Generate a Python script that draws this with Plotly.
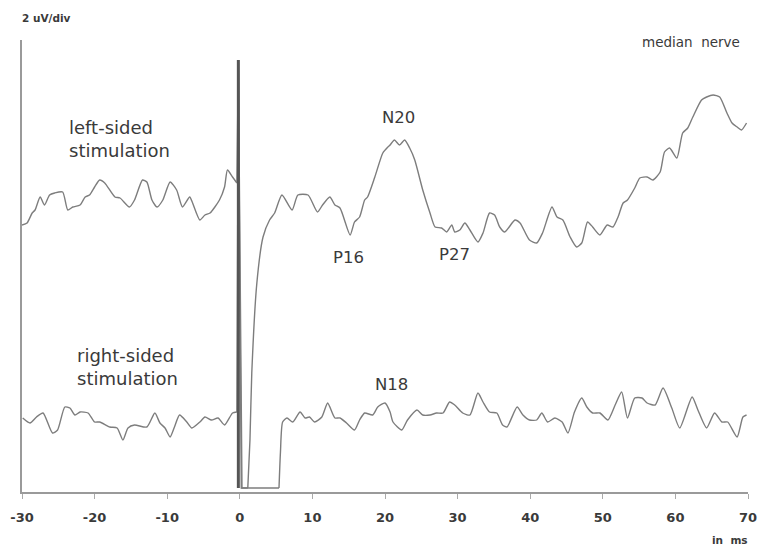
import plotly.graph_objects as go

# ---- Left-sided stimulation (upper trace): time in ms, amplitude in a.u. (offset trace) ----
left_t = [-30.0, -29.3, -28.6, -28.2, -27.5, -26.9, -26.2, -25.5, -24.4, -23.7, -23.0, -22.0,
          -21.3, -20.7, -20.0, -19.3, -18.6, -17.2, -16.5, -15.2, -14.5, -13.4, -12.8, -12.1,
          -11.4, -10.6, -9.6, -8.7, -7.9, -6.9, -6.5, -5.5, -4.8, -4.1, -2.8, -2.1, -1.7,
          -1.0, -0.4,
          -0.2, 0.2, 1.1, 1.4, 1.65, 2.35, 3.2, 4.1, 4.8, 5.8,
          7.2, 8.0, 9.4, 10.7, 11.4, 12.4, 13.1, 13.8, 15.2, 15.8, 16.5, 17.2, 17.6, 18.6,
          19.7, 20.4, 20.7, 21.3, 22.0, 22.7, 23.4, 24.1, 25.2, 26.2, 26.9, 27.8, 28.5, 29.2,
          29.6, 30.3, 31.0, 31.7, 32.8, 33.5, 34.4, 35.1, 35.8, 36.5, 37.9, 38.6, 39.9, 40.9,
          41.7, 43.0, 43.7, 44.5, 45.5, 46.4, 47.1, 47.9, 48.6, 49.6, 50.6, 51.4, 52.1, 52.8,
          53.4, 54.4, 55.1, 56.1, 56.9, 57.9, 58.5, 59.2, 60.2, 61.0, 61.7, 62.4, 63.6, 64.3,
          65.2, 66.1, 67.1, 67.8, 68.5, 69.1, 69.8]
left_amp = [26.7, 26.9, 27.9, 28.2, 29.5, 28.7, 29.7, 29.9, 30.0, 28.2, 28.5, 28.7,
            29.5, 29.7, 30.5, 31.2, 30.9, 29.5, 29.4, 28.5, 29.2, 31.2, 31.0, 29.2,
            28.5, 29.2, 31.0, 30.2, 28.5, 29.5, 28.9, 27.2, 27.7, 27.9, 29.2, 30.5, 32.2,
            31.5, 30.9,
            43.2, 0.4, 0.4, 5.2, 11.9, 20.9, 25.5, 27.2, 27.9, 29.7,
            28.2, 29.7, 29.7, 28.0, 28.7, 29.5, 28.7, 28.4, 25.7, 27.0, 27.5, 29.2, 29.5, 31.5,
            33.9, 34.5, 34.7, 35.2, 34.7, 35.2, 34.4, 33.2, 30.2, 27.9, 26.5, 26.4, 26.0, 26.7,
            26.0, 26.2, 26.9, 26.2, 25.0, 25.9, 27.9, 27.7, 26.5, 26.0, 27.2, 26.9, 25.2, 24.9,
            25.9, 28.5, 27.5, 27.2, 25.5, 24.5, 24.9, 27.0, 26.5, 25.7, 26.7, 26.5, 27.5, 28.9,
            29.2, 30.4, 31.4, 31.5, 31.2, 32.0, 34.0, 34.4, 33.4, 35.9, 36.4, 37.5, 39.2, 39.5,
            39.7, 39.5, 37.9, 36.9, 36.5, 36.2, 36.9]

# ---- Right-sided stimulation (lower trace) ----
right_t = [-29.9, -28.9, -28.0, -27.1, -25.8, -25.1, -24.1, -23.4, -22.7, -22.0, -20.9, -20.0,
           -19.3, -17.9, -16.9, -16.1, -15.4, -14.5, -12.8, -11.7, -11.0, -10.3, -9.6, -9.0,
           -8.3, -7.3, -6.6, -5.5, -4.8, -3.9, -3.0, -2.1, -1.0, -0.4,
           -0.2, 0.3, 5.4, 5.6, 5.9,
           6.5, 7.3, 8.3, 9.0, 9.6, 10.3, 11.3, 12.1, 13.1, 13.8, 14.7, 15.8, 16.5, 17.2, 18.3,
           19.0, 20.0, 20.7, 21.1, 22.3, 23.1, 24.4, 25.2, 26.2, 27.1, 28.0, 28.9, 29.6, 30.7,
           31.7, 32.8, 33.5, 34.4, 35.4, 36.2, 36.8, 38.2, 39.0, 39.9, 40.9, 41.6, 42.4, 43.4,
           44.4, 45.2, 46.1, 47.1, 47.8, 48.6, 49.6, 50.7, 51.7, 52.6, 53.4, 54.4, 55.4, 56.1,
           57.2, 58.3, 59.5, 60.6, 62.3, 63.1, 64.3, 65.4, 66.4, 67.2, 68.5, 69.3, 69.8]
right_amp = [7.4, 6.9, 7.5, 7.9, 5.9, 6.2, 8.5, 8.4, 7.7, 8.0, 7.9, 7.0,
             7.0, 6.5, 6.4, 5.2, 6.4, 6.7, 6.5, 7.9, 6.9, 6.4, 5.5, 6.5,
             7.7, 7.0, 6.4, 7.0, 7.5, 7.2, 7.4, 6.7, 7.9, 8.0,
             43.2, 0.4, 0.4, 4.0, 7.0,
             7.4, 7.0, 8.0, 7.4, 7.5, 7.0, 7.5, 8.9, 7.4, 7.4, 6.9, 6.2, 7.2, 7.9, 7.7,
             8.5, 8.9, 8.0, 7.0, 6.2, 7.2, 8.2, 7.7, 7.7, 7.9, 7.9, 9.0, 8.7, 7.9,
             7.7, 9.9, 9.0, 8.0, 7.9, 6.7, 6.5, 8.5, 7.7, 7.2, 7.2, 7.9, 7.0, 7.4,
             7.0, 5.9, 8.0, 9.4, 8.5, 7.9, 7.9, 7.2, 8.7, 10.0, 7.4, 9.4, 9.4, 8.9,
             8.7, 10.4, 8.4, 6.4, 9.5, 8.2, 6.4, 7.9, 7.0, 7.0, 5.5, 7.5, 7.7]

# ---- Stimulus artifact ----
artifact_t = [-0.2, -0.2]
artifact_amp = [0.4, 43.2]

# ---- Axis ticks ----
tick_vals = [-30, -20, -10, 0, 10, 20, 30, 40, 50, 60, 70]
tick_text = [str(v) for v in tick_vals]

# ---- Peak labels ----
peak_names = ["N20", "P16", "P27", "N18"]
peak_t = [21.8, 15.0, 29.6, 20.9]
peak_amp = [37.5, 23.5, 23.8, 10.8]

# ---- Trace labels (left aligned, two lines each) ----
label_texts = ["left-sided<br>stimulation", "right-sided<br>stimulation"]
label_t = [-23.8, -22.7]
label_amp = [35.35, 12.55]

trace_color = "#7d7d7d"
text_color = "#3a3a3a"
font_main = "DejaVu Sans"


def add_segments(fig, t, a, name):
    # pre-stimulus and post-stimulus parts smoothed; the artifact part drawn straight
    i0 = next(i for i, v in enumerate(t) if v >= -0.4)
    i1 = next(i for i, v in enumerate(t) if v >= 1.0)
    parts = [(t[:i0 + 1], a[:i0 + 1], "spline"),
             (t[i0:i1 + 1], a[i0:i1 + 1], "linear"),
             (t[i1:], a[i1:], "spline")]
    for tt, aa, shp in parts:
        fig.add_trace(go.Scatter(x=tt, y=aa, mode="lines", name=name,
                                 line=dict(color=trace_color, width=1.4, shape=shp,
                                           smoothing=0.6 if shp == "spline" else None),
                                 hoverinfo="skip"))


fig = go.Figure()
add_segments(fig, left_t, left_amp, "left-sided stimulation")
add_segments(fig, right_t, right_amp, "right-sided stimulation")
fig.add_trace(go.Scatter(x=artifact_t, y=artifact_amp, mode="lines", name="stimulus artifact",
                         line=dict(color="#555555", width=3), hoverinfo="skip"))

annotations = []
for name, t, a in zip(peak_names, peak_t, peak_amp):
    annotations.append(dict(x=t, y=a, xref="x", yref="y", text=name, showarrow=False,
                            font=dict(family=font_main, size=16.5, color=text_color)))
for txt, t, a in zip(label_texts, label_t, label_amp):
    annotations.append(dict(x=t, y=a, xref="x", yref="y", text=txt, showarrow=False,
                            xanchor="left", yanchor="middle", align="left",
                            font=dict(family=font_main, size=18, color=text_color)))

annotations += [
    dict(x=0.992, y=0.9956, xref="paper", yref="paper", xanchor="right", yanchor="middle",
         text="median  nerve", showarrow=False,
         font=dict(family=font_main, size=13.5, color=text_color)),
    dict(x=-0.003, y=1.049, xref="paper", yref="paper", xanchor="left", yanchor="middle",
         text="<b>2 uV/div</b>", showarrow=False,
         font=dict(family=font_main, size=10.5, color=text_color)),
    dict(x=1.003, y=-0.106, xref="paper", yref="paper", xanchor="right", yanchor="middle",
         text="<b>in  ms</b>", showarrow=False,
         font=dict(family=font_main, size=10.5, color=text_color)),
]

fig.update_layout(
    width=760, height=550,
    margin=dict(l=22, r=12, t=40, b=58, autoexpand=False),
    paper_bgcolor="white", plot_bgcolor="white",
    showlegend=False,
    annotations=annotations,
    xaxis=dict(range=[-30, 70], showline=True, linecolor="#9a9a9a", linewidth=1.5,
               ticks="outside", ticklen=5, tickwidth=1, tickcolor="#aaaaaa",
               tickvals=tick_vals, ticktext=tick_text, showgrid=False, zeroline=False,
               ticklabelstandoff=8, automargin=False,
               tickfont=dict(family=font_main, size=13, color=text_color, weight="bold")),
    yaxis=dict(range=[0, 45.2], showline=True, linecolor="#9a9a9a", linewidth=1.5,
               showticklabels=False, ticks="", showgrid=False, zeroline=False,
               automargin=False),
)

fig.write_html("out.html", config={"displayModeBar": False},
               post_script="document.body.style.margin='0';document.body.style.overflow='hidden';")
